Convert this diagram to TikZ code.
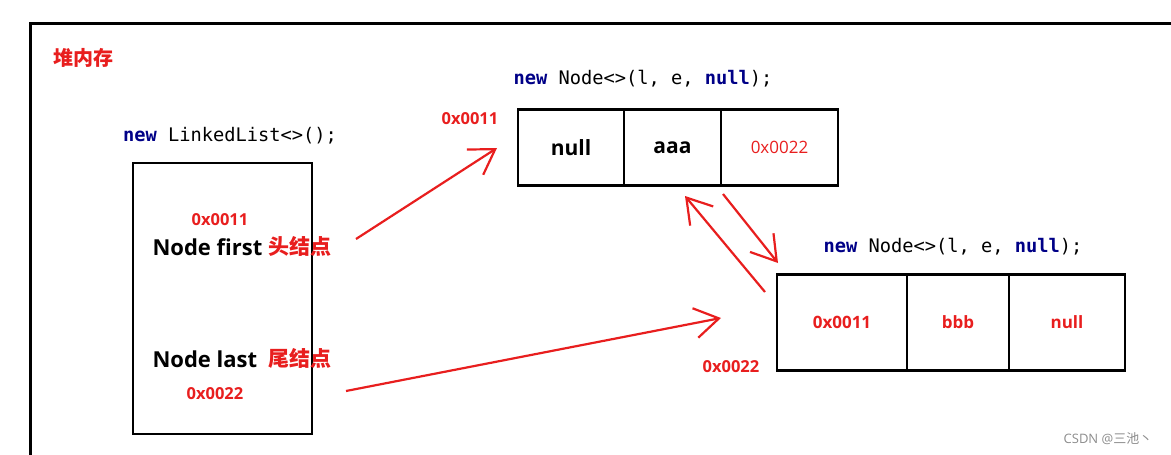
\documentclass[tikz,border=0pt]{standalone}
\usepackage{fontspec}
\setmainfont{Open Sans}
\setmonofont{DejaVu Sans Mono}
\newfontfamily\cjk{Noto Sans CJK SC}
\usetikzlibrary{positioning, arrows.meta}
\definecolor{penred}{RGB}{232,30,30}
\definecolor{navy}{RGB}{0,0,135}
\newcommand{\kw}[1]{{\bfseries\color{navy}#1}}

\begin{document}
\begin{tikzpicture}[x=1pt, y=-1pt,
    box/.style={draw, line width=2.6pt, inner sep=0pt, outer sep=0pt},
    cell/.style={box, minimum height=76pt, font=\bfseries\fontsize{21}{21}\selectfont},
    bcell/.style={box, minimum height=96pt, text=penred, font=\bfseries\fontsize{17}{17}\selectfont},
    addr/.style={text=penred, font=\bfseries\fontsize{16.5}{16.5}\selectfont},
    code/.style={font=\ttfamily\fontsize{18.7}{18.7}\selectfont},
    field/.style={anchor=base west, font=\bfseries\fontsize{22}{22}\selectfont},
    cnlbl/.style={anchor=base west, text=penred, font=\cjk\bfseries\fontsize{21}{21}\selectfont},
    ptr/.style={draw=penred, line width=2.2pt,
        -{Straight Barb[length=24pt, width=30pt, line width=2.2pt]}}]
  \useasboundingbox (0,0) rectangle (1171,455);
  % heap frame
  \draw[line width=3pt] (30,455) -- (30,23) -- (1171,23);
  \node[text=penred, font=\cjk\bfseries\fontsize{20}{20}\selectfont] (heapLbl) at (83,58) {堆内存};

  % the list object
  \node[code] (listCode) at (230,136) {\kw{new} LinkedList<>();};
  \node[box, minimum width=179pt, minimum height=271pt] (listBox) at (222.5,298.5) {};
  \node[addr] (firstAddr) at (220,220) {0x0011};
  \node[field] (firstTxt) at (149,255) {Node first};
  \node[cnlbl] (firstCn) at (265,254) {头结点};
  \node[field] (lastTxt) at (149,367) {Node last};
  \node[cnlbl] (lastCn) at (265,366) {尾结点};
  \node[addr] (lastAddr) at (215,394) {0x0022};

  % first node
  \node[code] (nodeACode) at (643,79) {\kw{new} Node<>(l, e, \kw{null});};
  \node[addr] (nodeAAddr) at (470,119) {0x0011};
  \node[cell, minimum width=106pt] (aPrev) at (571,147.5) {null};
  \node[cell, minimum width=97pt, right=0pt of aPrev] (aItem) {aaa};
  \node[cell, minimum width=117pt, right=0pt of aItem, text=penred,
        font=\fontsize{17}{17}\selectfont] (aNext) {0x0022};

  % second node
  \node[code] (nodeBCode) at (953,247) {\kw{new} Node<>(l, e, \kw{null});};
  \node[bcell, minimum width=130pt] (bPrev) at (842,322.5) {0x0011};
  \node[bcell, minimum width=102pt, right=0pt of bPrev] (bItem) {bbb};
  \node[bcell, minimum width=116pt, right=0pt of bItem] (bNext) {null};
  \node[addr] (nodeBAddr) at (731,367) {0x0022};

  % pointers
  \coordinate (firstTail) at (356,239);
  \coordinate (aIn) at (497,148);
  \coordinate (lastTail) at (346,391);
  \coordinate (bIn) at (721,318);
  \coordinate (bOut) at (765,292);
  \coordinate (aBack) at (685,196);
  \coordinate (aOut) at (723,194);
  \coordinate (bBack) at (778,263);
  \draw[ptr] (firstTail) -- (aIn);
  \draw[ptr] (lastTail) -- (bIn);
  \draw[ptr] (bOut) -- (aBack);
  \draw[ptr] (aOut) -- (bBack);

  \node[text=black!45, font=\fontsize{13}{13}\selectfont] (mark) at (1108,439) {CSDN @{\cjk 三池丶}};
\end{tikzpicture}
\end{document}
